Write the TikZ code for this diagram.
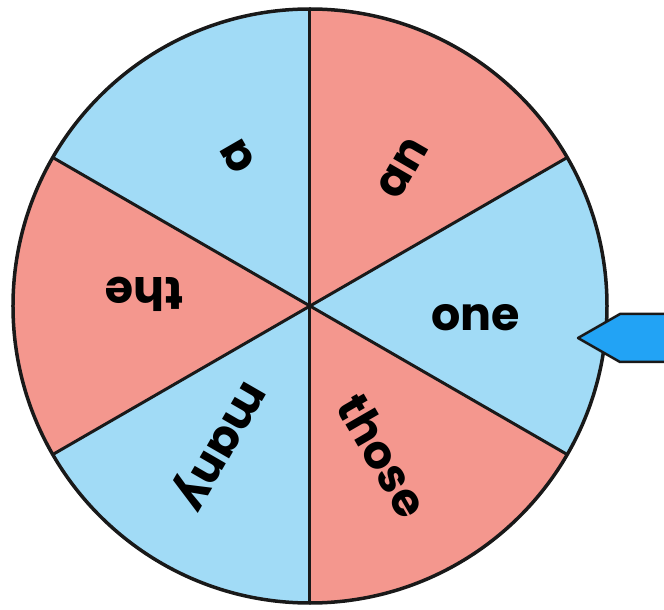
\documentclass[tikz,border=0pt]{standalone}
\usepackage{fontspec}
\setmainfont{Poppins}
\usetikzlibrary{calc}
\definecolor{wheelblue}{RGB}{161,219,246}
\definecolor{wheelred}{RGB}{244,151,142}
\definecolor{pointerblue}{RGB}{34,163,245}

\begin{document}
\begin{tikzpicture}[x=1pt, y=1pt, line join=round,
      word/.style={font=\fontsize{46}{46}\selectfont\bfseries, inner sep=0pt},
      divider/.style={line width=3pt, black!90}]
    \clip (-310,-304) rectangle (354,306);
    \coordinate (O) at (0,0);
    % sectors and words
    \foreach \ang/\col/\txt [count=\i] in {0/wheelblue/one, 60/wheelred/an, 120/wheelblue/a,
        180/wheelred/the, 240/wheelblue/many, 300/wheelred/those} {
      \fill[\col] (O) -- (\ang-30:297) arc[start angle=\ang-30, end angle=\ang+30, radius=297] -- cycle;
      \node[word, rotate=\ang] (w\i) at ($(O)+(\ang:166)+(\ang-90:12)$) {\txt};
    }
    \foreach \ang [count=\i] in {30,90,...,330} {
      \coordinate (r\i) at (\ang:297);
      \draw[divider] (O) -- (r\i);
    }
    \draw[line width=3.5pt, black!90] (O) circle[radius=297];
    % pointer
    \coordinate (tip) at (268,-32);
    \fill[pointerblue, draw=black!90, line width=2.5pt]
      (tip) -- (310,-8) -- (370,-8) -- (370,-56) -- (310,-56) -- cycle;
\end{tikzpicture}
\end{document}
